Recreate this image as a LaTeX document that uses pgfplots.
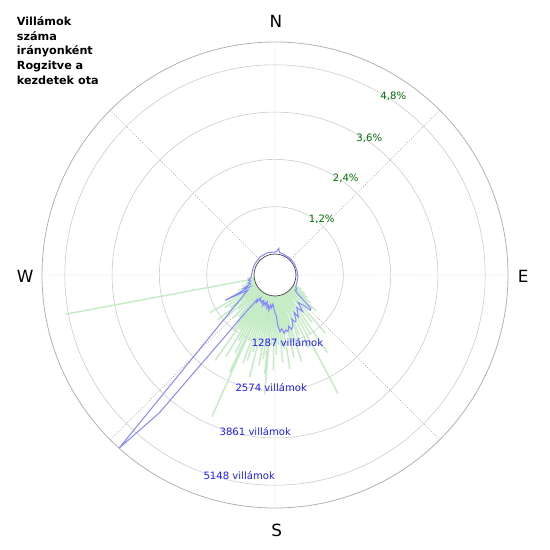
\documentclass[border=0pt]{standalone}
\usepackage{fontspec}
\setmainfont{DejaVu Sans}
\usepackage{pgfplots}
\pgfplotsset{compat=1.18}
\usepgfplotslibrary{polar}
\definecolor{bluel}{RGB}{135,135,255}
\definecolor{greenb}{RGB}{198,236,198}
\definecolor{pctgreen}{RGB}{0,110,0}
\definecolor{cntblue}{RGB}{30,30,255}
\begin{document}
\begin{tikzpicture}
\useasboundingbox (0,0) rectangle (550bp,550bp);
\begin{polaraxis}[
  at={(275bp,275bp)}, anchor=center,
  scale only axis, width=466bp, height=466bp,
  ymin=0, ymax=5.911,
  xtick={0,45,...,315}, ytick={1.7328,2.9328,4.1328,5.3328},
  xticklabels={}, yticklabels={},
  major tick length=0pt,
  xmajorgrids, ymajorgrids,
  x grid style={gray!70, line width=0.5bp, dash pattern=on 1bp off 1.6bp},
  y grid style={gray!40, line width=0.6bp},
  x axis line style={gray!60, line width=0.8bp},
  y axis line style={draw=none},
  clip=false,
  unbounded coords=jump,
]
% green bars: percentage per direction (bearing, percent)
\addplot[greenb, line width=1.5bp, no markers] table[x expr=90-\thisrow{b}, y expr=\thisrow{p}+0.5328] {
b p
118 0
118 0.23
nan nan
122 0
122 0.36
nan nan
125 0
125 0.48
nan nan
128 0
128 0.61
nan nan
131 0
131 0.86
nan nan
135 0
135 0.71
nan nan
139 0
139 1.42
nan nan
142 0
142 0.99
nan nan
146 0
146 1.85
nan nan
149 0
149 1.24
nan nan
152 0
152 2.87
nan nan
155 0
155 1.50
nan nan
158 0
158 1.12
nan nan
160 0
160 1.37
nan nan
163 0
163 1.78
nan nan
165 0
165 1.24
nan nan
167 0
167 1.62
nan nan
169 0
169 0.99
nan nan
171 0
171 1.88
nan nan
173 0
173 1.37
nan nan
175 0
175 1.70
nan nan
177 0
177 1.24
nan nan
179 0
179 1.50
nan nan
181 0
181 1.88
nan nan
183 0
183 1.24
nan nan
185 0
185 2.51
nan nan
186 0
186 2.00
nan nan
188 0
188 1.62
nan nan
190 0
190 1.80
nan nan
192 0
192 1.37
nan nan
194 0
194 2.13
nan nan
196 0
196 1.50
nan nan
198 0
198 1.75
nan nan
200 0
200 1.85
nan nan
202 0
202 1.24
nan nan
204 0
204 3.40
nan nan
205 0
205 2.18
nan nan
207 0
207 1.70
nan nan
209 0
209 1.37
nan nan
211 0
211 1.88
nan nan
213 0
213 1.12
nan nan
215 0
215 2.11
nan nan
217 0
217 1.24
nan nan
219 0
219 0.99
nan nan
221 0
221 0.86
nan nan
224 0
224 0.99
nan nan
227 0
227 0.74
nan nan
229 0
229 1.12
nan nan
232 0
232 1.32
nan nan
234 0
234 0.86
nan nan
237 0
237 0.99
nan nan
240 0
240 1.37
nan nan
243 0
243 0.61
nan nan
247 0
247 0.48
nan nan
251 0
251 0.36
nan nan
255 0
255 0.23
nan nan
259.4 0
259.4 4.87
nan nan
263 0
263 0.18
};
\draw[fill=white, draw=black!75, line width=0.7bp] (axis cs:0,0) circle[radius=21bp];
% blue line: number of strikes per direction (bearing, count)
\addplot[bluel, line width=1bp, no markers] table[x expr=90-\thisrow{b}, y expr=\thisrow{c}/1072.5+0.5328] {
b c
0 54
5 82
8 163
11 54
20 41
40 41
60 41
80 41
95 54
105 54
115 68
120 82
124 136
127 109
130 245
133 762
135 789
137 544
140 408
143 680
146 490
149 626
151 735
153 571
155 789
157 816
159 707
161 898
163 980
165 871
167 1007
169 952
171 1034
173 898
175 980
177 789
178 544
180 463
182 327
184 218
186 327
188 245
190 408
192 272
194 354
196 190
198 299
200 218
202 327
204 190
206 272
208 218
210 245
212 163
214 327
216 245
218 653
220 4326
222 5769
241 272
243 952
245 190
247 354
250 136
253 190
256 109
259 163
262 109
265 82
270 68
280 54
290 54
300 54
320 68
340 68
355 54
360 54
};
\end{polaraxis}
% percentage labels
\begin{scope}[every node/.style={inner sep=0pt, font=\fontsize{10.1bp}{12bp}\selectfont}]
\node[text=pctgreen] at (321.7bp,330.7bp) {1,2\%};
\node[text=pctgreen] at (345.7bp,371.7bp) {2,4\%};
\node[text=pctgreen] at (369.3bp,412bp) {3,6\%};
\node[text=pctgreen] at (393.3bp,453.3bp) {4,8\%};
\node[text=cntblue] at (287.5bp,207.3bp) {1287 villámok};
\node[text=cntblue] at (271.2bp,162.3bp) {2574 villámok};
\node[text=cntblue] at (255.3bp,118.3bp) {3861 villámok};
\node[text=cntblue] at (239.2bp,74bp) {5148 villámok};
\end{scope}
\begin{scope}[every node/.style={inner sep=0pt, font=\fontsize{16.8bp}{20bp}\selectfont}]
\node at (276bp,529bp) {N};
\node at (523.3bp,274bp) {E};
\node at (276.7bp,20bp) {S};
\node at (25.3bp,273.7bp) {W};
\end{scope}
\node[anchor=north west, inner sep=0pt, align=left, font=\bfseries\fontsize{11.2bp}{14.6bp}\selectfont] at (16.7bp,533.5bp) {Villámok\\száma\\irányonként\\Rogzitve a\\kezdetek ota};
\end{tikzpicture}
\end{document}
